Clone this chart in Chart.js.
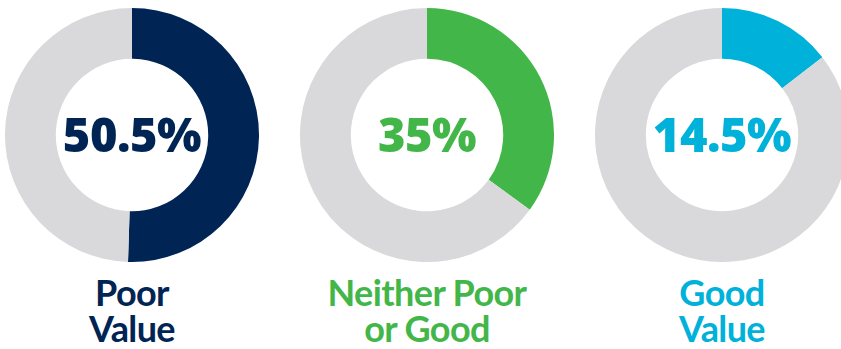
<!DOCTYPE html>
<html>
<head>
<meta charset="utf-8">
<script src="https://cdn.jsdelivr.net/npm/chart.js@4"></script>
<style>
  html, body { margin: 0; padding: 0; background: #fff; }
  body { width: 841px; height: 349px; overflow: hidden; position: relative; }
  .donut { position: absolute; top: 8px; width: 254px; height: 254px; }
  .pct {
    position: absolute; top: 106px; width: 254px; text-align: center;
    font-family: "Open Sans", Lato, "Liberation Sans", sans-serif; font-weight: 800;
    font-size: 47px; line-height: 56px; letter-spacing: -0.5px;
  }
  .label {
    position: absolute; top: 274px; width: 300px; text-align: center;
    font-family: Lato, "Liberation Sans", sans-serif; font-weight: 700;
    font-size: 36px; line-height: 36px; letter-spacing: -0.6px;
  }
</style>
</head>
<body>
<script>
// survey answers, share of respondents in %
const categories = ["Poor Value", "Neither Poor or Good", "Good Value"];
const labelLines = [["Poor", "Value"], ["Neither Poor", "or Good"], ["Good", "Value"]];
const shares = [50.5, 35, 14.5];
const pctLabels = ["50.5%", "35%", "14.5%"];
const colors = ["#002554", "#43b649", "#00b1d9"];
const restColor = "#d9d9db";

const centersX = [132, 427, 722];

categories.forEach((cat, i) => {
    const cx = centersX[i];

    const canvas = document.createElement("canvas");
    canvas.className = "donut";
    canvas.width = 254;
    canvas.height = 254;
    canvas.style.left = (cx - 127) + "px";
    document.body.appendChild(canvas);

    new Chart(canvas, {
        type: "doughnut",
        data: {
            labels: [cat, "Other"],
            datasets: [{
                data: [shares[i], 100 - shares[i]],
                backgroundColor: [colors[i], restColor],
                borderWidth: 0,
            }],
        },
        options: {
            responsive: false,
            animation: false,
            cutout: "60%",
            layout: { padding: 0 },
            plugins: {
                legend: { display: false },
                tooltip: { enabled: false },
            },
        },
    });

    const pct = document.createElement("div");
    pct.className = "pct";
    pct.style.left = (cx - 127) + "px";
    pct.style.color = colors[i];
    pct.textContent = pctLabels[i];
    document.body.appendChild(pct);

    const label = document.createElement("div");
    label.className = "label";
    label.style.left = (cx - 150) + "px";
    label.style.color = colors[i];
    label.innerHTML = labelLines[i].join("<br>");
    document.body.appendChild(label);
});
</script>
</body>
</html>
